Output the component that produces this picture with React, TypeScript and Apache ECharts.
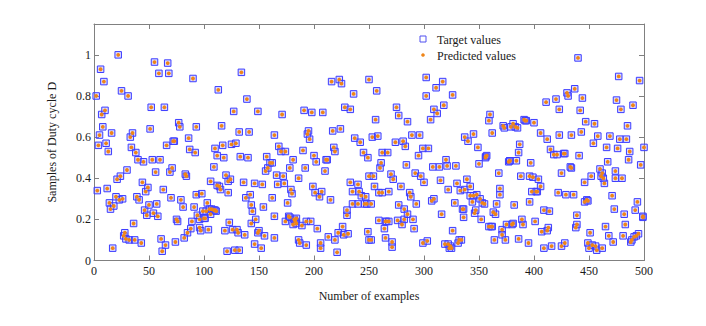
import React, { useEffect, useRef } from "react";
import * as echarts from "echarts";

const xTicks = { min: 0, max: 500, interval: 50 };
const yTicks = { min: 0, max: 1.15, interval: 0.2 };
const seriesNames = ["Target values", "Predicted values"];

// [sample number, duty cycle D]
const targetValues: [number, number][] = [
  [2,0.80],[3,0.34],[4,0.56],[5,0.61],[6,0.93],[7,0.71],[8,0.65],[9,0.87],[10,0.73],[11,0.57],[12,0.35],[13,0.53],[14,0.28],[15,0.25],[16,0.62],[17,0.06],[18,0.265],[20,0.31],[21,0.395],[22,1.0],[23,0.295],[24,0.41],[25,0.825],[26,0.30],[27,0.12],[28,0.135],[29,0.105],[30,0.44],[31,0.80],[32,0.10],[33,0.60],[34,0.55],[35,0.62],[36,0.18],[37,0.10],[38,0.525],[39,0.31],[40,0.49],[41,0.295],[43,0.085],[44,0.38],[45,0.48],[46,0.245],[47,0.335],[48,0.22],[49,0.355],[50,0.27],[51,0.64],[52,0.745],[53,0.49],[54,0.23],[55,0.965],[56,0.43],[57,0.275],[58,0.215],[59,0.91],[60,0.49],[61,0.105],[62,0.045],[63,0.345],[64,0.745],[65,0.075],[66,0.56],[67,0.96],[68,0.91],[69,0.43],[70,0.305],[71,0.45],[72,0.58],[73,0.58],[74,0.09],[75,0.20],[76,0.19],[77,0.67],[78,0.65],[79,0.295],
  [81,0.26],[82,0.11],[83,0.42],[84,0.41],[85,0.135],[86,0.595],[87,0.54],[88,0.155],[89,0.19],[90,0.885],[91,0.26],[92,0.525],[93,0.65],[93,0.32],[94,0.22],[96,0.16],[96,0.20],[97,0.145],[98,0.325],[99,0.24],[100,0.205],[101,0.205],[102,0.24],[103,0.28],[104,0.15],[105,0.25],[106,0.385],[106,0.225],[107,0.25],[109,0.245],[109,0.455],[110,0.545],[110,0.245],[111,0.24],[112,0.51],[112,0.365],[113,0.83],[114,0.36],[115,0.345],[116,0.655],[117,0.56],[118,0.50],[119,0.145],[120,0.415],[121,0.045],[122,0.33],[122,0.385],[123,0.185],[124,0.395],[125,0.565],[126,0.15],[127,0.725],[128,0.05],[129,0.57],[130,0.15],[131,0.135],[132,0.625],[132,0.05],[133,0.505],[134,0.915],[136,0.38],[137,0.125],[138,0.305],[139,0.785],[140,0.50],[141,0.625],[142,0.32],[143,0.18],[143,0.27],[144,0.24],[146,0.375],[146,0.08],[147,0.20],[149,0.725],[149,0.135],[150,0.145],[152,0.06],[153,0.37],[154,0.26],[155,0.12],[156,0.435],[157,0.505],[158,0.45],[160,0.475],[162,0.475],[162,0.305],[164,0.61],[164,0.215],[164,0.11],
  [166,0.415],[167,0.37],[168,0.555],[170,0.53],[171,0.71],[172,0.41],[173,0.375],[174,0.53],[174,0.19],[176,0.28],[177,0.215],[178,0.21],[178,0.45],[179,0.345],[180,0.325],[181,0.175],[181,0.49],[182,0.20],[183,0.19],[184,0.205],[184,0.18],[186,0.40],[186,0.10],[187,0.085],[189,0.17],[190,0.535],[191,0.73],[192,0.45],[193,0.19],[193,0.075],[194,0.615],[195,0.63],[196,0.59],[197,0.19],[198,0.72],[199,0.36],[200,0.51],[201,0.33],[202,0.48],[203,0.155],[205,0.31],[206,0.085],[206,0.06],[207,0.335],[208,0.72],[210,0.435],[211,0.49],[212,0.49],[213,0.115],[215,0.295],[216,0.87],[217,0.63],[218,0.55],[219,0.53],[219,0.10],[221,0.04],[222,0.135],[223,0.88],[224,0.64],[225,0.86],[226,0.165],[227,0.125],[228,0.745],[230,0.22],[230,0.245],[231,0.13],[233,0.735],[233,0.38],[235,0.275],[235,0.335],[236,0.81],[237,0.595],[240,0.37],[240,0.275],[241,0.335],[242,0.575],[243,0.315],[245,0.525],[246,0.275],[247,0.31],[248,0.275],[249,0.14],[249,0.50],[250,0.88],[250,0.41],
  [250,0.10],[252,0.10],[252,0.275],[253,0.60],[254,0.41],[255,0.36],[256,0.685],[257,0.825],[258,0.605],[259,0.195],[259,0.33],[260,0.45],[261,0.475],[262,0.525],[262,0.33],[264,0.155],[265,0.19],[265,0.11],[266,0.19],[267,0.525],[268,0.335],[268,0.19],[270,0.42],[271,0.09],[271,0.065],[272,0.395],[274,0.575],[275,0.745],[276,0.195],[277,0.27],[277,0.705],[279,0.36],[280,0.175],[281,0.58],[282,0.20],[282,0.25],[283,0.555],[284,0.465],[285,0.225],[285,0.675],[287,0.33],[288,0.31],[289,0.61],[290,0.20],[291,0.155],[292,0.425],[293,0.275],[295,0.51],[296,0.61],[297,0.41],[299,0.085],[299,0.545],[300,0.38],[302,0.80],[302,0.89],[303,0.095],[304,0.545],[306,0.685],[307,0.29],[308,0.455],[309,0.30],[309,0.735],[311,0.84],[312,0.715],[314,0.455],[315,0.39],[316,0.225],[317,0.87],[318,0.755],[319,0.08],[320,0.49],[321,0.46],[322,0.08],[322,0.345],[323,0.06],[324,0.07],[325,0.06],[326,0.145],[326,0.805],[328,0.28],[329,0.46],[330,0.375],[331,0.085],[332,0.10],[333,0.34],[334,0.10],[335,0.25],[336,0.25],[337,0.60],[337,0.345],
  [336,0.21],[339,0.395],[340,0.58],[342,0.36],[342,0.315],[344,0.285],[345,0.315],[345,0.615],[346,0.23],[347,0.245],[348,0.32],[349,0.55],[350,0.47],[351,0.30],[352,0.20],[353,0.28],[355,0.275],[356,0.50],[356,0.505],[357,0.51],[359,0.165],[359,0.68],[360,0.71],[361,0.165],[362,0.62],[362,0.165],[363,0.235],[364,0.10],[365,0.225],[366,0.275],[368,0.425],[369,0.32],[369,0.35],[371,0.15],[371,0.125],[372,0.655],[373,0.645],[374,0.10],[375,0.175],[377,0.48],[378,0.485],[378,0.485],[379,0.65],[380,0.175],[381,0.665],[381,0.18],[382,0.27],[383,0.65],[384,0.485],[385,0.645],[386,0.105],[386,0.525],[387,0.565],[388,0.41],[389,0.20],[390,0.175],[391,0.685],[392,0.68],[393,0.68],[395,0.085],[396,0.285],[396,0.41],[397,0.475],[398,0.335],[399,0.405],[400,0.67],[401,0.19],[402,0.335],[403,0.335],[404,0.395],[406,0.62],[406,0.36],[407,0.14],[409,0.245],[409,0.06],[411,0.77],[412,0.145],[412,0.59],[413,0.16],[414,0.24],[415,0.54],[416,0.07],[418,0.515],[420,0.785],[421,0.515],[422,0.33],[423,0.735],[423,0.61],
  [425,0.07],[425,0.425],[427,0.52],[428,0.52],[428,0.085],[429,0.32],[430,0.815],[431,0.80],[433,0.455],[434,0.45],[434,0.61],[436,0.32],[437,0.835],[438,0.16],[439,0.175],[439,0.22],[440,0.985],[441,0.51],[442,0.73],[443,0.625],[444,0.79],[446,0.38],[446,0.285],[447,0.675],[448,0.295],[449,0.085],[449,0.29],[450,0.06],[451,0.135],[452,0.41],[453,0.075],[454,0.57],[455,0.665],[456,0.07],[457,0.05],[458,0.605],[460,0.445],[461,0.41],[462,0.425],[462,0.06],[463,0.40],[464,0.375],[465,0.165],[466,0.55],[467,0.48],[468,0.12],[469,0.605],[471,0.315],[472,0.09],[473,0.25],[474,0.40],[474,0.435],[475,0.78],[476,0.545],[477,0.895],[478,0.59],[479,0.735],[480,0.40],[481,0.12],[482,0.225],[483,0.175],[484,0.59],[485,0.655],[486,0.49],[487,0.53],[488,0.09],[489,0.10],[490,0.755],[491,0.115],[492,0.245],[493,0.12],[494,0.285],[495,0.13],[496,0.875],[497,0.465],[499,0.215],[499,0.21],[500,0.55]
];

const predictedValues: [number, number][] = [
  [2,0.80],[3,0.34],[4,0.56],[5,0.61],[6,0.93],[7,0.71],[8,0.65],[9,0.87],[10,0.73],[11,0.57],[12,0.35],[13,0.53],[14,0.28],[15,0.25],[16,0.62],[17,0.06],[18,0.265],[20,0.31],[21,0.395],[22,1.0],[23,0.295],[24,0.41],[25,0.825],[26,0.30],[27,0.12],[28,0.135],[29,0.105],[30,0.44],[31,0.80],[32,0.10],[33,0.60],[34,0.55],[35,0.62],[36,0.18],[37,0.10],[38,0.525],[39,0.31],[40,0.49],[41,0.295],[43,0.085],[44,0.38],[45,0.48],[46,0.245],[47,0.335],[48,0.22],[49,0.355],[50,0.27],[51,0.64],[52,0.745],[53,0.49],[54,0.23],[55,0.965],[56,0.43],[57,0.275],[58,0.215],[59,0.91],[60,0.49],[61,0.105],[62,0.045],[63,0.345],[64,0.745],[65,0.075],[66,0.56],[67,0.96],[68,0.91],[69,0.43],[70,0.305],[71,0.45],[72,0.58],[73,0.58],[74,0.09],[75,0.20],[76,0.19],[77,0.67],[78,0.65],[79,0.295],
  [81,0.26],[82,0.11],[83,0.42],[84,0.41],[85,0.135],[86,0.595],[87,0.54],[88,0.155],[89,0.19],[90,0.885],[91,0.26],[92,0.525],[93,0.65],[93,0.32],[94,0.22],[96,0.16],[96,0.20],[97,0.145],[98,0.325],[99,0.24],[100,0.205],[101,0.205],[102,0.24],[103,0.28],[104,0.15],[105,0.25],[106,0.385],[106,0.225],[107,0.25],[109,0.245],[109,0.455],[110,0.545],[110,0.245],[111,0.24],[112,0.51],[112,0.365],[113,0.83],[114,0.36],[115,0.345],[116,0.655],[117,0.56],[118,0.50],[119,0.145],[120,0.415],[121,0.045],[122,0.33],[122,0.385],[123,0.185],[124,0.395],[125,0.565],[126,0.15],[127,0.725],[128,0.05],[129,0.57],[130,0.15],[131,0.135],[132,0.625],[132,0.05],[133,0.505],[134,0.915],[136,0.38],[137,0.125],[138,0.305],[139,0.785],[140,0.50],[141,0.625],[142,0.32],[143,0.18],[143,0.27],[144,0.24],[146,0.375],[146,0.08],[147,0.20],[149,0.725],[149,0.135],[150,0.145],[152,0.06],[153,0.37],[154,0.26],[155,0.12],[156,0.435],[157,0.505],[158,0.45],[160,0.475],[162,0.475],[162,0.305],[164,0.61],[164,0.215],[164,0.11],
  [166,0.415],[167,0.37],[168,0.555],[170,0.53],[171,0.71],[172,0.41],[173,0.375],[174,0.53],[174,0.19],[176,0.28],[177,0.215],[178,0.21],[178,0.45],[179,0.345],[180,0.325],[181,0.175],[181,0.49],[182,0.20],[183,0.19],[184,0.205],[184,0.18],[186,0.40],[186,0.10],[187,0.085],[189,0.17],[190,0.535],[191,0.73],[192,0.45],[193,0.19],[193,0.075],[194,0.615],[195,0.63],[196,0.59],[197,0.19],[198,0.72],[199,0.36],[200,0.51],[201,0.33],[202,0.48],[203,0.155],[205,0.31],[206,0.085],[206,0.06],[207,0.335],[208,0.72],[210,0.435],[211,0.49],[212,0.49],[213,0.115],[215,0.295],[216,0.87],[217,0.63],[218,0.55],[219,0.53],[219,0.10],[221,0.04],[222,0.135],[223,0.88],[224,0.64],[225,0.86],[226,0.165],[227,0.125],[228,0.745],[230,0.22],[230,0.245],[231,0.13],[233,0.735],[233,0.38],[235,0.275],[235,0.335],[236,0.81],[237,0.595],[240,0.37],[240,0.275],[241,0.335],[242,0.575],[243,0.315],[245,0.525],[246,0.275],[247,0.31],[248,0.275],[249,0.14],[249,0.50],[250,0.88],[250,0.41],
  [250,0.10],[252,0.10],[252,0.275],[253,0.60],[254,0.41],[255,0.36],[256,0.685],[257,0.825],[258,0.605],[259,0.195],[259,0.33],[260,0.45],[261,0.475],[262,0.525],[262,0.33],[264,0.155],[265,0.19],[265,0.11],[266,0.19],[267,0.525],[268,0.335],[268,0.19],[270,0.42],[271,0.09],[271,0.065],[272,0.395],[274,0.575],[275,0.745],[276,0.195],[277,0.27],[277,0.705],[279,0.36],[280,0.175],[281,0.58],[282,0.20],[282,0.25],[283,0.555],[284,0.465],[285,0.225],[285,0.675],[287,0.33],[288,0.31],[289,0.61],[290,0.20],[291,0.155],[292,0.425],[293,0.275],[295,0.51],[296,0.61],[297,0.41],[299,0.085],[299,0.545],[300,0.38],[302,0.80],[302,0.89],[303,0.095],[304,0.545],[306,0.685],[307,0.29],[308,0.455],[309,0.30],[309,0.735],[311,0.84],[312,0.715],[314,0.455],[315,0.39],[316,0.225],[317,0.87],[318,0.755],[319,0.08],[320,0.49],[321,0.46],[322,0.08],[322,0.345],[323,0.06],[324,0.07],[325,0.06],[326,0.145],[326,0.805],[328,0.28],[329,0.46],[330,0.375],[331,0.085],[332,0.10],[333,0.34],[334,0.10],[335,0.25],[336,0.25],[337,0.60],[337,0.345],
  [336,0.21],[339,0.395],[340,0.58],[342,0.36],[342,0.315],[344,0.285],[345,0.315],[345,0.615],[346,0.23],[347,0.245],[348,0.32],[349,0.55],[350,0.47],[351,0.30],[352,0.20],[353,0.28],[355,0.275],[356,0.50],[356,0.505],[357,0.51],[359,0.165],[359,0.68],[360,0.71],[361,0.165],[362,0.62],[362,0.165],[363,0.235],[364,0.10],[365,0.225],[366,0.275],[368,0.425],[369,0.32],[369,0.35],[371,0.15],[371,0.125],[372,0.655],[373,0.645],[374,0.10],[375,0.175],[377,0.48],[378,0.485],[378,0.485],[379,0.65],[380,0.175],[381,0.665],[381,0.18],[382,0.27],[383,0.65],[384,0.485],[385,0.645],[386,0.105],[386,0.525],[387,0.565],[388,0.41],[389,0.20],[390,0.175],[391,0.685],[392,0.68],[393,0.68],[395,0.085],[396,0.285],[396,0.41],[397,0.475],[398,0.335],[399,0.405],[400,0.67],[401,0.19],[402,0.335],[403,0.335],[404,0.395],[406,0.62],[406,0.36],[407,0.14],[409,0.245],[409,0.06],[411,0.77],[412,0.145],[412,0.59],[413,0.16],[414,0.24],[415,0.54],[416,0.07],[418,0.515],[420,0.785],[421,0.515],[422,0.33],[423,0.735],[423,0.61],
  [425,0.07],[425,0.425],[427,0.52],[428,0.52],[428,0.085],[429,0.32],[430,0.815],[431,0.80],[433,0.455],[434,0.45],[434,0.61],[436,0.32],[437,0.835],[438,0.16],[439,0.175],[439,0.22],[440,0.985],[441,0.51],[442,0.73],[443,0.625],[444,0.79],[446,0.38],[446,0.285],[447,0.675],[448,0.295],[449,0.085],[449,0.29],[450,0.06],[451,0.135],[452,0.41],[453,0.075],[454,0.57],[455,0.665],[456,0.07],[457,0.05],[458,0.605],[460,0.445],[461,0.41],[462,0.425],[462,0.06],[463,0.40],[464,0.375],[465,0.165],[466,0.55],[467,0.48],[468,0.12],[469,0.605],[471,0.315],[472,0.09],[473,0.25],[474,0.40],[474,0.435],[475,0.78],[476,0.545],[477,0.895],[478,0.59],[479,0.735],[480,0.40],[481,0.12],[482,0.225],[483,0.175],[484,0.59],[485,0.655],[486,0.49],[487,0.53],[488,0.09],[489,0.10],[490,0.755],[491,0.115],[492,0.245],[493,0.12],[494,0.285],[495,0.13],[496,0.875],[497,0.465],[499,0.215],[499,0.21],[500,0.55]
];

const FONT = "'Liberation Serif', 'Times New Roman', serif";
const AXIS_COLOR = "#808080";
const TEXT_COLOR = "#1a1a1a";
const BLUE = "#3c3cff";
const ORANGE = "#ef8518";

export default function App() {
  const ref = useRef<HTMLDivElement>(null);

  useEffect(() => {
    if (!ref.current) return;
    const chart = echarts.init(ref.current, undefined, { renderer: "svg" });
    const axisLine = { show: true, onZero: false, lineStyle: { color: AXIS_COLOR, width: 1 } };
    const tick = { show: true, inside: true, length: 5, lineStyle: { color: AXIS_COLOR } };
    const label = { color: TEXT_COLOR, fontFamily: FONT, fontSize: 12 };
    chart.setOption({
      animation: false,
      backgroundColor: "#ffffff",
      grid: { left: 94, right: 62, top: 24, bottom: 65.5, containLabel: false },
      xAxis: [
        {
          type: "value", position: "bottom", ...xTicks,
          axisLine, axisTick: tick, splitLine: { show: false },
          axisLabel: { ...label, margin: 4 },
          name: "Number of examples", nameLocation: "middle", nameGap: 29,
          nameTextStyle: { color: TEXT_COLOR, fontFamily: FONT, fontSize: 12 },
        },
        {
          type: "value", position: "top", ...xTicks,
          axisLine, axisTick: tick, splitLine: { show: false }, axisLabel: { show: false },
        },
      ],
      yAxis: [
        {
          type: "value", position: "left", ...yTicks,
          axisLine, axisTick: tick, splitLine: { show: false },
          axisLabel: { ...label, margin: 3, showMaxLabel: false },
          name: "Samples of Duty cycle D", nameLocation: "middle", nameGap: 36,
          nameTextStyle: { color: TEXT_COLOR, fontFamily: FONT, fontSize: 12 },
        },
        {
          type: "value", position: "right", ...yTicks,
          axisLine, axisTick: tick, splitLine: { show: false }, axisLabel: { show: false },
        },
      ],
      series: [
        {
          name: seriesNames[0], type: "scatter", symbol: "rect", symbolSize: 6.5,
          data: targetValues,
          itemStyle: { color: "rgba(140,140,255,0.3)", borderColor: BLUE, borderWidth: 1, opacity: 1 },
          z: 2,
        },
        {
          name: seriesNames[1], type: "scatter", symbol: "circle", symbolSize: 3.8,
          data: predictedValues,
          itemStyle: { color: ORANGE, opacity: 1 },
          z: 3,
        },
      ],
      graphic: [
        { type: "rect", shape: { x: 420, y: 36, width: 6, height: 6 }, style: { fill: "#ffffff", stroke: "#5050f0", lineWidth: 1 } },
        { type: "text", x: 437, y: 39.5, style: { text: seriesNames[0], font: `12px ${FONT}`, fill: TEXT_COLOR, verticalAlign: "middle", align: "left" } },
        { type: "circle", shape: { cx: 423, cy: 55, r: 1.8 }, style: { fill: ORANGE } },
        { type: "text", x: 437, y: 56, style: { text: seriesNames[1], font: `12px ${FONT}`, fill: TEXT_COLOR, verticalAlign: "middle", align: "left" } },
      ],
    });
    return () => chart.dispose();
  }, []);

  return (
    <div
      ref={ref}
      style={{ position: "fixed", left: 0, top: 0, width: 706, height: 326, background: "#fff" }}
    />
  );
}
